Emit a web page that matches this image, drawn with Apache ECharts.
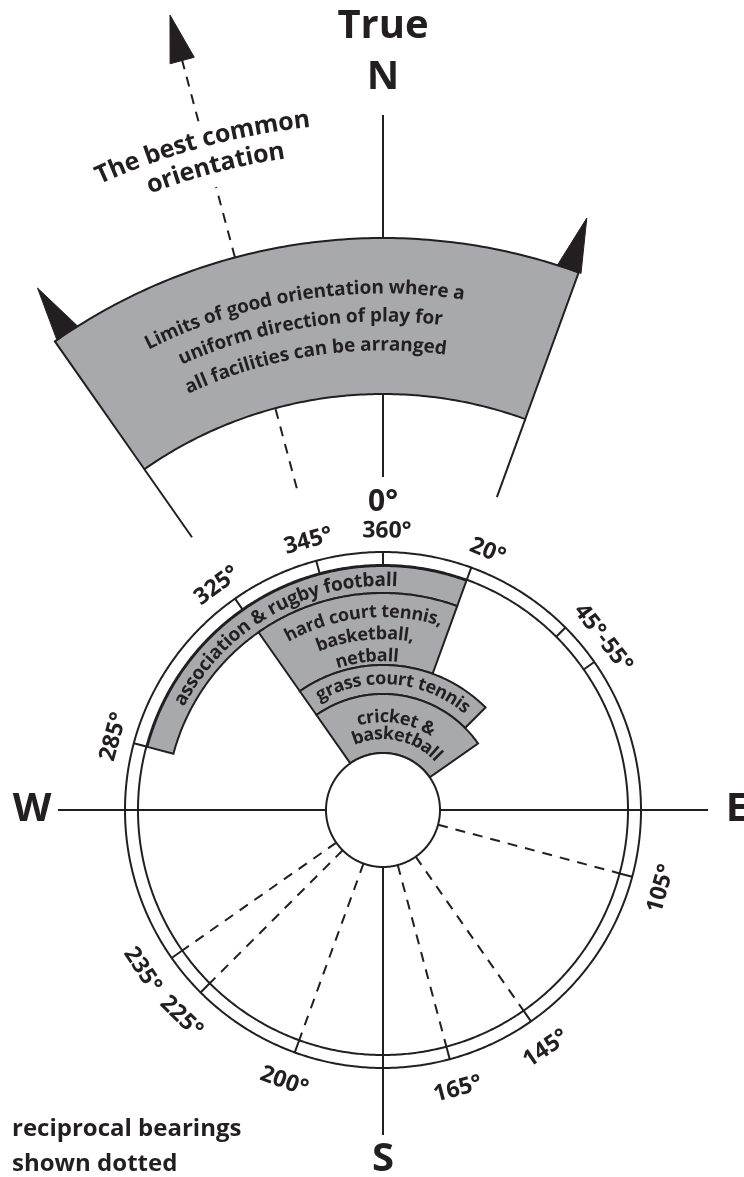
<!DOCTYPE html>
<html>
<head>
<meta charset="utf-8">
<title>Orientation of outdoor pitches</title>
<script src="https://cdn.jsdelivr.net/npm/echarts@6/dist/echarts.min.js"></script>
<style>
html, body { margin: 0; padding: 0; background: #fff; }
#chart { width: 744px; height: 1177px; }
</style>
</head>
<body>
<div id="chart"></div>
<script>
// bearings in degrees from true north, radii in radius-axis units
var bandLabels = [['association & rugby football'], ['hard court tennis,', 'basketball,', 'netball'], ['grass court tennis'], ['cricket &', 'basketball']];
var bandFrom = [285, 325, 325, 325];
var bandTo = [20, 20, 45, 55];
var bandInner = [217, 145, 116, 57];
var bandOuter = [244, 217, 145, 116];

var limitsLabel = ['Limits of good orientation where a', 'uniform direction of play for', 'all facilities can be arranged'];
var limitsFrom = 325, limitsTo = 20;
var limitsInner = 416, limitsOuter = 572;

var bestLabel = ['The best common', 'orientation'];
var bestBearing = 345;

var tickBearings = [0, 20, 45, 55, 105, 145, 165, 200, 225, 235, 285, 325, 345];
var tickLabels = ['0°', '360°', '20°', '45°-55°', '105°', '145°', '165°', '200°', '225°', '235°', '285°', '325°', '345°'];
var tickLabelBearings = [0, 0.8, 22, 52, 105.8, 145.7, 165, 200, 224.3, 236.4, 285.2, 323.5, 344.5];

var reciprocalBearings = [105, 145, 165, 200, 225, 235];
var cardinalLabels = ['True', 'N', 'W', 'E', 'S'];
var cardinalBearings = [0, 0, 270, 90, 180];
var ringRadii = [258, 245];
var hubRadius = 57;

var INK = '#231f20', GREY = '#a7a9ac', FONT = 'Open Sans', WEIGHT = 700;

// layout of the label text (centre bearing, radius); font sizes below
var bandLabelPos = [[[330.5, 229.5]], [[354, 198], [354, 176], [354, 154]], [[5.1, 131]], [[8.5, 93], [11.9, 76]]];
var limitsLabelPos = [[351, 522], [351.3, 494], [351.4, 465]];
var bestLabelPos = [[344.8, 694], [345.4, 666]];
var cardinalRadius = [783, 732, 351, 354, 350];

var curvedLines = [];
bandLabels.forEach(function (lines, i) {
    lines.forEach(function (t, j) {
        curvedLines.push({ text: t, bearing: bandLabelPos[i][j][0], r: bandLabelPos[i][j][1], size: i === 0 ? 19 : 18 });
    });
});
limitsLabel.forEach(function (t, j) {
    curvedLines.push({ text: t, bearing: limitsLabelPos[j][0], r: limitsLabelPos[j][1], size: 19 });
});
bestLabel.forEach(function (t, j) {
    curvedLines.push({ text: t, bearing: bestLabelPos[j][0], r: bestLabelPos[j][1], size: 25 });
});

var measureCtx = document.createElement('canvas').getContext('2d');
function textWidth(str, size) {
    measureCtx.font = WEIGHT + ' ' + size + 'px "' + FONT + '"';
    return measureCtx.measureText(str).width;
}
function norm(b) { return ((b % 360) + 360) % 360; }

function arcPoints(api, r, b0, b1) {
    var pts = [];
    var n = Math.max(2, Math.ceil(Math.abs(b1 - b0) / 0.5));
    for (var i = 0; i <= n; i++) {
        pts.push(api.coord([r, norm(b0 + (b1 - b0) * i / n)]));
    }
    return pts;
}
function sector(api, b0, b1, r0, r1, style) {
    if (b1 < b0) b1 += 360;
    var pts = arcPoints(api, r1, b0, b1).concat(arcPoints(api, r0, b1, b0));
    return { type: 'polygon', shape: { points: pts }, style: style };
}
function radial(api, b, r0, r1, dashed) {
    var p0 = api.coord([r0, norm(b)]), p1 = api.coord([r1, norm(b)]);
    return {
        type: 'line',
        shape: { x1: p0[0], y1: p0[1], x2: p1[0], y2: p1[1] },
        style: { stroke: INK, lineWidth: 2, lineDash: dashed ? [10, 8] : null }
    };
}
function pxRadius(api, r) {
    var c = api.coord([0, 0]), p = api.coord([r, 0]);
    return Math.sqrt((p[0] - c[0]) * (p[0] - c[0]) + (p[1] - c[1]) * (p[1] - c[1]));
}
function curvedText(api, str, centre, r, size) {
    var total = textWidth(str, size);
    var rpx = pxRadius(api, r);
    var kids = [];
    for (var i = 0; i < str.length; i++) {
        if (str[i] === ' ') continue;
        var mid = (textWidth(str.slice(0, i), size) + textWidth(str.slice(0, i + 1), size)) / 2;
        var b = centre + (mid - total / 2) / rpx * 180 / Math.PI;
        var p = api.coord([r, norm(b)]);
        kids.push({
            type: 'text', x: p[0], y: p[1], rotation: -b * Math.PI / 180,
            style: { text: str[i], fontSize: size, fontWeight: WEIGHT, fontFamily: FONT, fill: INK, align: 'center', verticalAlign: 'middle' }
        });
    }
    return { type: 'group', children: kids };
}

var outline = { fill: GREY, stroke: INK, lineWidth: 2 };

var option = {
    animation: false,
    backgroundColor: '#fff',
    polar: { center: [383, 810], radius: 830 },
    angleAxis: { type: 'value', min: 0, max: 360, startAngle: 90, clockwise: true, show: false },
    radiusAxis: { type: 'value', min: 0, max: 830, show: false },
    graphic: [
        { type: 'text', x: 12, y: 1129, style: { text: 'reciprocal bearings', fontSize: 24, fontWeight: WEIGHT, fontFamily: FONT, fill: INK, verticalAlign: 'middle' } },
        { type: 'text', x: 12, y: 1164, style: { text: 'shown dotted', fontSize: 24, fontWeight: WEIGHT, fontFamily: FONT, fill: INK, verticalAlign: 'middle' } }
    ],
    series: [
        {   // straight lines: compass cross, north line, limit edges, best orientation
            type: 'custom', coordinateSystem: 'polar', z: 1, silent: true,
            data: [[0, 0]],
            renderItem: function (params, api) {
                var kids = [];
                [90, 180, 270].forEach(function (b) { kids.push(radial(api, b, hubRadius, 325, false)); });
                kids.push(radial(api, 0, 333, limitsInner, false));
                kids.push(radial(api, 0, limitsOuter, 695, false));
                kids.push(radial(api, limitsFrom, 333, limitsInner, false));
                kids.push(radial(api, limitsTo, 333, limitsInner, false));
                kids.push(radial(api, bestBearing, 333, limitsInner, true));
                kids.push(radial(api, bestBearing, limitsOuter, 645, true));
                kids.push(radial(api, bestBearing, 713, 776, true));
                return { type: 'group', children: kids };
            }
        },
        {   // reciprocal bearings, dotted
            type: 'custom', coordinateSystem: 'polar', z: 1, silent: true,
            data: reciprocalBearings.map(function (b) { return [ringRadii[1], b]; }),
            renderItem: function (params, api) {
                return radial(api, api.value(1), hubRadius, ringRadii[1], true);
            }
        },
        {   // orientation bands for each facility
            type: 'custom', coordinateSystem: 'polar', z: 2, silent: true,
            data: bandFrom.map(function (b, i) { return [bandOuter[i], b, i]; }),
            renderItem: function (params, api) {
                var i = api.value(2);
                return sector(api, bandFrom[i], bandTo[i], bandInner[i], bandOuter[i], outline);
            }
        },
        {   // limits of good orientation
            type: 'custom', coordinateSystem: 'polar', z: 2, silent: true,
            data: [[limitsOuter, limitsFrom]],
            renderItem: function (params, api) {
                return sector(api, limitsFrom, limitsTo, limitsInner, limitsOuter, outline);
            }
        },
        {   // arrow heads
            type: 'custom', coordinateSystem: 'polar', z: 2, silent: true,
            data: [[572, 326.5, 626], [572, 19, 626], [776, bestBearing, 823]],
            renderItem: function (params, api) {
                var base = api.value(0), b = api.value(1), tip = api.value(2);
                var hw = 12.5 / pxRadius(api, base) * 180 / Math.PI;
                return {
                    type: 'polygon',
                    shape: { points: [api.coord([base, norm(b - hw)]), api.coord([tip, norm(b)]), api.coord([base, norm(b + hw)])] },
                    style: { fill: INK, stroke: INK, lineWidth: 1 }
                };
            }
        },
        {   // compass rings and ticks
            type: 'custom', coordinateSystem: 'polar', z: 3, silent: true,
            data: [[ringRadii[0], 0]],
            renderItem: function (params, api) {
                var kids = [];
                ringRadii.forEach(function (r) {
                    kids.push({ type: 'polygon', shape: { points: arcPoints(api, r, 0, 360) }, style: { fill: 'none', stroke: INK, lineWidth: 2 } });
                });
                tickBearings.forEach(function (b) { kids.push(radial(api, b, ringRadii[1], ringRadii[0], false)); });
                kids.push({ type: 'polygon', shape: { points: arcPoints(api, hubRadius, 0, 360) }, style: { fill: '#fff', stroke: INK, lineWidth: 2 } });
                return { type: 'group', children: kids };
            }
        },
        {   // bearing labels
            type: 'custom', coordinateSystem: 'polar', z: 4, silent: true,
            data: tickLabelBearings.map(function (b, i) { return [280, b, i]; }),
            renderItem: function (params, api) {
                var i = api.value(2), b = tickLabelBearings[i];
                var bottom = b > 90 && b < 270;
                var r = i === 0 ? 308 : (bottom ? 289 : 279);
                var p = api.coord([r, norm(b)]);
                var rot = bottom ? b - 180 : (b > 180 ? b - 360 : b);
                return {
                    type: 'text', x: p[0], y: p[1], rotation: -rot * Math.PI / 180,
                    style: { text: tickLabels[i], fontSize: i === 0 ? 30 : 23, fontWeight: WEIGHT, fontFamily: FONT, fill: INK, align: 'center', verticalAlign: 'middle' }
                };
            }
        },
        {   // cardinal points
            type: 'custom', coordinateSystem: 'polar', z: 4, silent: true,
            data: cardinalBearings.map(function (b, i) { return [cardinalRadius[i], b, i]; }),
            renderItem: function (params, api) {
                var i = api.value(2);
                var p = api.coord([cardinalRadius[i], cardinalBearings[i]]);
                return {
                    type: 'text', x: p[0], y: p[1],
                    style: { text: cardinalLabels[i], fontSize: 40, fontWeight: 700, fontFamily: FONT, fill: INK, align: 'center', verticalAlign: 'middle' }
                };
            }
        },
        {   // curved labels
            type: 'custom', coordinateSystem: 'polar', z: 5, silent: true,
            data: curvedLines.map(function (l, i) { return [l.r, l.bearing, i]; }),
            renderItem: function (params, api) {
                var l = curvedLines[api.value(2)];
                return curvedText(api, l.text, l.bearing, l.r, l.size);
            }
        }
    ]
};

var chart = echarts.init(document.getElementById('chart'));
chart.setOption(option);
</script>
</body>
</html>
